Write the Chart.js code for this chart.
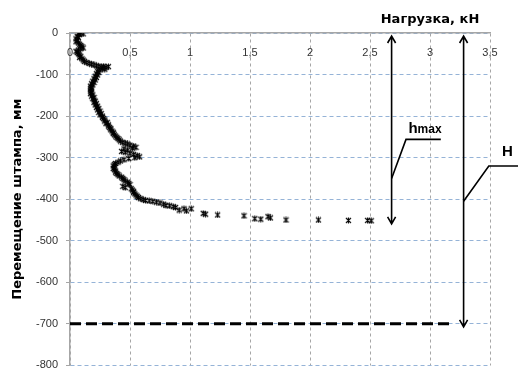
<!DOCTYPE html>
<html>
<head>
<meta charset="utf-8">
<script src="https://cdn.jsdelivr.net/npm/chart.js@4.4.1/dist/chart.umd.min.js"></script>
<style>
    html, body { margin: 0; padding: 0; background: #fff; }
    #wrap { width: 518px; height: 380px; }
</style>
</head>
<body>
<div id="wrap"><canvas id="plateChart"></canvas></div>
<script>
// Нагрузка, кН (ось X) и перемещение штампа, мм (ось Y)
const loadKN = [
    0.07, 0.09, 0.11, 0.08, 0.06, 0.07, 0.05, 0.06, 0.05, 0.07, 0.08, 0.09, 0.10, 0.11, 0.09, 0.07,
    0.05, 0.06, 0.07, 0.08, 0.09, 0.08, 0.10, 0.11, 0.12, 0.14, 0.16, 0.18, 0.20, 0.22, 0.24, 0.26,
    0.28, 0.30, 0.32, 0.27, 0.29, 0.25, 0.23, 0.24, 0.22, 0.23, 0.21, 0.22, 0.20, 0.21, 0.19, 0.20,
    0.18, 0.19, 0.17, 0.18, 0.17, 0.18, 0.17, 0.18, 0.17, 0.19, 0.18, 0.20, 0.19, 0.20, 0.21, 0.20,
    0.22, 0.21, 0.23, 0.22, 0.24, 0.23, 0.25, 0.24, 0.26, 0.25, 0.27, 0.27, 0.28, 0.29, 0.29, 0.31,
    0.30, 0.32, 0.32, 0.33, 0.34, 0.34, 0.35, 0.36, 0.36, 0.37, 0.38, 0.39, 0.40, 0.41, 0.42, 0.44,
    0.46, 0.48, 0.50, 0.53, 0.55, 0.52, 0.45, 0.48, 0.43, 0.46, 0.50, 0.53, 0.56, 0.58, 0.54, 0.49,
    0.45, 0.42, 0.40, 0.38, 0.37, 0.36, 0.37, 0.36, 0.37, 0.38, 0.38, 0.39, 0.40, 0.41, 0.43, 0.44,
    0.45, 0.46, 0.48, 0.49, 0.50, 0.44, 0.46, 0.51, 0.52, 0.53, 0.53, 0.54, 0.55, 0.56, 0.57, 0.59,
    0.61, 0.63, 0.66, 0.69, 0.72, 0.75, 0.78, 0.80, 0.83, 0.86, 0.88, 0.91, 0.95, 0.97, 1.01, 1.11,
    1.13, 1.23, 1.45, 1.54, 1.59, 1.65, 1.67, 1.80, 2.07, 2.32, 2.48, 2.51
];
const settlementMM = [
    -1, 0, -2, -4, -8, -11, -14, -18, -21, -24, -27, -30, -33, -36, -38, -41,
    -44, -47, -50, -53, -56, -59, -62, -65, -68, -71, -73, -75, -77, -79, -80, -82,
    -80, -83, -81, -85, -87, -89, -92, -95, -98, -101, -104, -107, -110, -113, -116, -119,
    -122, -125, -128, -131, -134, -137, -140, -143, -146, -149, -152, -155, -158, -161, -164, -167,
    -170, -173, -176, -179, -182, -185, -188, -191, -194, -197, -200, -203, -206, -209, -212, -215,
    -218, -221, -224, -227, -230, -233, -236, -239, -242, -245, -248, -251, -254, -257, -260, -263,
    -265, -267, -270, -272, -275, -277, -279, -282, -285, -287, -289, -292, -295, -298, -300, -302,
    -305, -308, -311, -314, -317, -320, -323, -326, -329, -332, -335, -338, -341, -344, -347, -350,
    -353, -356, -359, -362, -365, -369, -372, -375, -378, -381, -384, -387, -390, -393, -396, -399,
    -401, -403, -404, -405, -407, -409, -412, -415, -416, -418, -420, -426, -423, -428, -423, -434,
    -436, -438, -440, -447, -448, -442, -445, -450, -450, -451, -451, -452
];

// уровень -700 мм (пунктир) и характерные перемещения
const baseLevel = -700;
const baseLineLoad = [0, 3.2];
const hmaxValue = -452;
const hValue = -700;

const xTickValues = [0, 0.5, 1, 1.5, 2, 2.5, 3, 3.5];
const xTickLabels = ['0', '0,5', '1', '1,5', '2', '2,5', '3', '3,5'];

const points = loadKN.map((v, i) => ({ x: v, y: settlementMM[i] }));

// маркер-звёздочка как в Excel: косой крест + вертикальная черта
function makeStar() {
    const c = document.createElement('canvas');
    c.width = 7;
    c.height = 7;
    const g = c.getContext('2d');
    g.strokeStyle = '#000';
    g.lineWidth = 1.1;
    g.beginPath();
    g.moveTo(1, 1); g.lineTo(6, 6);
    g.moveTo(6, 1); g.lineTo(1, 6);
    g.moveTo(3.5, 0.5); g.lineTo(3.5, 6.5);
    g.stroke();
    return c;
}
const starMarker = makeStar();

// подписи оси X внутри области графика, под верхней осью
const xLabelsPlugin = {
    id: 'xLabels',
    beforeDatasetsDraw(chart) {
        const { ctx, chartArea, scales: { x } } = chart;
        ctx.save();
        ctx.font = '11px "Liberation Sans", Arial, sans-serif';
        ctx.fillStyle = '#333';
        ctx.textAlign = 'center';
        ctx.textBaseline = 'middle';
        xTickValues.forEach((v, i) => {
            ctx.fillText(xTickLabels[i], x.getPixelForValue(v), chartArea.top + 20);
        });
        ctx.restore();
    }
};

function drawArrow(ctx, px, y1, y2) {
    ctx.beginPath();
    ctx.moveTo(px, y1);
    ctx.lineTo(px, y2);
    // наконечники
    ctx.moveTo(px - 4, y1 + 7);
    ctx.lineTo(px, y1);
    ctx.lineTo(px + 4, y1 + 7);
    ctx.moveTo(px - 4, y2 - 7);
    ctx.lineTo(px, y2);
    ctx.lineTo(px + 4, y2 - 7);
    ctx.stroke();
}

const annotationsPlugin = {
    id: 'annotations',
    afterDatasetsDraw(chart) {
        const { ctx, scales: { x, y } } = chart;
        ctx.save();
        ctx.strokeStyle = '#000';
        ctx.lineWidth = 1.6;
        ctx.lineJoin = 'miter';

        // h max
        const ax = x.getPixelForValue(2.68);
        drawArrow(ctx, ax, y.getPixelForValue(0) + 3, y.getPixelForValue(hmaxValue) + 3);
        ctx.beginPath();
        ctx.moveTo(ax, y.getPixelForValue(-350));
        ctx.lineTo(x.getPixelForValue(2.8), y.getPixelForValue(-256));
        ctx.lineTo(x.getPixelForValue(3.09), y.getPixelForValue(-256));
        ctx.stroke();

        // H
        const bx = x.getPixelForValue(3.28);
        drawArrow(ctx, bx, y.getPixelForValue(0) + 3, y.getPixelForValue(hValue) + 3);
        ctx.beginPath();
        ctx.moveTo(bx, y.getPixelForValue(-405));
        ctx.lineTo(x.getPixelForValue(3.49), y.getPixelForValue(-320));
        ctx.lineTo(chart.width, y.getPixelForValue(-320));
        ctx.stroke();

        ctx.fillStyle = '#000';
        ctx.textBaseline = 'alphabetic';
        ctx.textAlign = 'left';
        const hx = x.getPixelForValue(2.82);
        const hy = y.getPixelForValue(-240);
        ctx.font = 'bold 15px "Liberation Sans", Arial, sans-serif';
        ctx.fillText('h', hx, hy);
        const hw = ctx.measureText('h').width;
        ctx.font = 'bold 12px "Liberation Sans", Arial, sans-serif';
        ctx.fillText('max', hx + hw, hy);

        ctx.font = 'bold 15px "Liberation Sans", Arial, sans-serif';
        ctx.fillText('H', x.getPixelForValue(3.6), y.getPixelForValue(-295));

        // заголовок оси X
        ctx.font = 'bold 13px "DejaVu Sans", sans-serif';
        ctx.textAlign = 'center';
        ctx.fillText('Нагрузка, кН', 430, 23);
        ctx.restore();
    }
};

const ctx = document.getElementById('plateChart').getContext('2d');

const chart = new Chart(ctx, {
    type: 'scatter',
    data: {
        datasets: [
            {
                label: 'Перемещение',
                data: points,
                pointStyle: starMarker,
                pointRadius: 3.5,
                borderColor: '#000',
                backgroundColor: '#000',
                showLine: false
            },
            {
                label: 'Уровень -700',
                data: baseLineLoad.map(v => ({ x: v, y: baseLevel })),
                showLine: true,
                borderColor: '#000',
                borderWidth: 3,
                borderDash: [11, 5],
                pointRadius: 0
            }
        ]
    },
    options: {
        responsive: true,
        maintainAspectRatio: false,
        animation: false,
        layout: {
            padding: { top: 0, right: 28, bottom: 3, left: 0 }
        },
        plugins: {
            legend: { display: false },
            tooltip: { enabled: false }
        },
        scales: {
            x: {
                type: 'linear',
                position: 'top',
                min: 0,
                max: 3.5,
                ticks: {
                    stepSize: 0.5,
                    display: false
                },
                grid: {
                    color: '#a6a6a6',
                    drawTicks: false
                },
                border: {
                    color: '#a6a6a6',
                    width: 1.5,
                    dash: [3, 3]
                },
                afterFit: scale => { scale.height = 33; }
            },
            y: {
                type: 'linear',
                position: 'left',
                min: -800,
                max: 0,
                ticks: {
                    stepSize: 100,
                    color: '#333',
                    padding: 8,
                    font: { family: '"Liberation Sans", Arial, sans-serif', size: 11 }
                },
                grid: {
                    color: '#95b3d7',
                    tickColor: '#a6a6a6',
                    tickLength: 4,
                    tickBorderDash: []
                },
                border: {
                    color: '#a6a6a6',
                    width: 1.5,
                    dash: [4, 3]
                },
                title: {
                    display: true,
                    text: 'Перемещение штампа, мм',
                    color: '#000',
                    padding: { top: 10, bottom: 0 },
                    font: { family: '"DejaVu Sans", sans-serif', size: 13, weight: 'bold' }
                },
                afterFit: scale => { scale.width = 70; }
            }
        }
    },
    plugins: [xLabelsPlugin, annotationsPlugin]
});
</script>
</body>
</html>
